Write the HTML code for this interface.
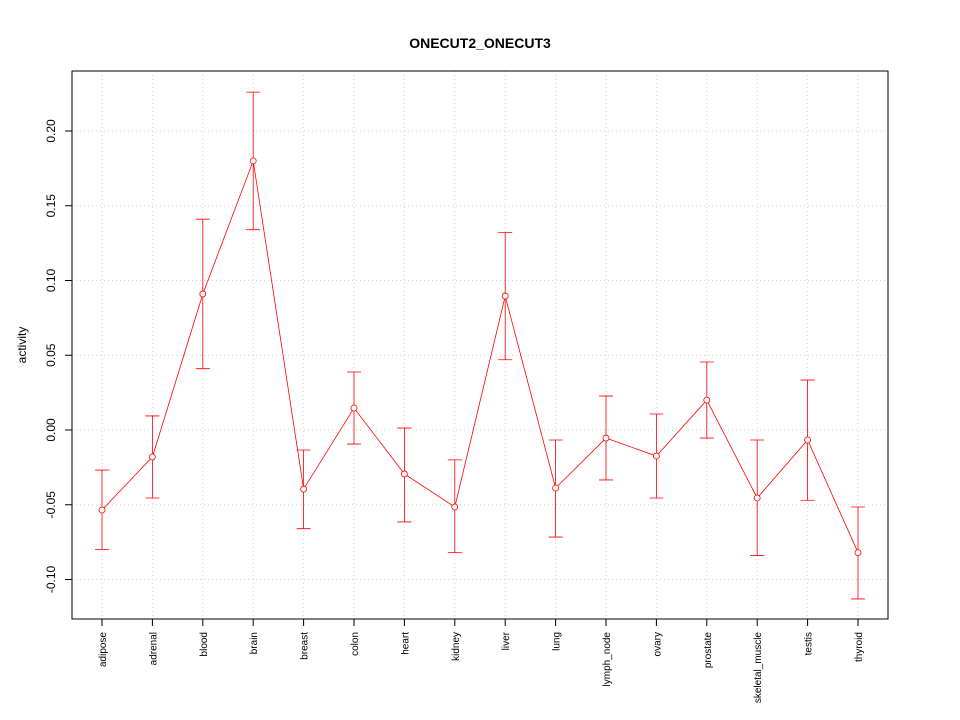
<!DOCTYPE html>
<html><head><meta charset="utf-8"><style>body{margin:0;background:#fff}svg{display:block;font-family:"Liberation Sans",sans-serif}</style></head>
<body>
<svg id="chart" width="960" height="720">
<text x="480" y="48" text-anchor="middle" font-size="14" font-weight="bold">ONECUT2_ONECUT3</text>
<text transform="translate(26,345) rotate(-90)" text-anchor="middle" font-size="12">activity</text>
<g id="grid"></g><g id="axes"></g><g id="marks"></g>
<rect x="72" y="71" width="816" height="548" fill="none" stroke="#000"/>
</svg>
<script>
const categories=["adipose","adrenal","blood","brain","breast","colon","heart","kidney","liver","lung","lymph_node","ovary","prostate","skeletal_muscle","testis","thyroid"];
const values=[-0.0535,-0.018,0.091,0.180,-0.0395,0.0147,-0.0294,-0.0515,0.0896,-0.0388,-0.0054,-0.0174,0.020,-0.0455,-0.0067,-0.082];
const upper=[-0.0268,0.0094,0.141,0.226,-0.0134,0.0388,0.0013,-0.020,0.132,-0.0067,0.0227,0.0107,0.0455,-0.0067,0.0334,-0.0515];
const lower=[-0.080,-0.0455,0.041,0.134,-0.066,-0.0094,-0.0615,-0.082,0.047,-0.0716,-0.0334,-0.0455,-0.0054,-0.084,-0.047,-0.113];
const yTicks=[-0.10,-0.05,0.00,0.05,0.10,0.15,0.20];
const yTickLabels=["-0.10","-0.05","0.00","0.05","0.10","0.15","0.20"];
const NS="http://www.w3.org/2000/svg";
const x=i=>102+i*(858-102)/(categories.length-1);
const y=v=>430-v*1495;
function mk(p,t,a){const e=document.createElementNS(NS,t);for(const k in a)e.setAttribute(k,a[k]);p.appendChild(e);return e;}
const grid=document.getElementById('grid'),axes=document.getElementById('axes'),marks=document.getElementById('marks');
categories.forEach((c,i)=>{
 const g=mk(grid,'line',{x1:x(i),x2:x(i),y1:71,y2:619,stroke:'#d3d3d3','stroke-dasharray':'1,3'});
 
 
 const t=mk(axes,'line',{x1:x(i),x2:x(i),y1:619,y2:626,stroke:'#000'});
 
 
 const l=mk(axes,'text',{transform:`translate(${x(i)+4},632) rotate(-90)`,'text-anchor':'end','font-size':'10'});
 l.textContent=c;
 
 
});
yTicks.forEach((v,i)=>{
 const g=mk(grid,'line',{x1:72,x2:888,y1:y(v),y2:y(v),stroke:'#d3d3d3','stroke-dasharray':'1,3'});
 
 
 const t=mk(axes,'line',{x1:65,x2:72,y1:y(v),y2:y(v),stroke:'#000'});
 
 
 const l=mk(axes,'text',{transform:`translate(55,${y(v)}) rotate(-90)`,'text-anchor':'middle','font-size':'12'});
 l.textContent=yTickLabels[i];
 
 
});
const line=mk(marks,'polyline',{points:values.map((v,i)=>x(i)+','+y(v)).join(' '),fill:'none',stroke:'red','stroke-width':'0.8'});


values.forEach((v,i)=>{
 const e=mk(marks,'path',{d:`M${x(i)},${y(upper[i])}V${y(lower[i])}M${x(i)-7},${y(upper[i])}H${x(i)+7}M${x(i)-7},${y(lower[i])}H${x(i)+7}`,stroke:'red',fill:'none','stroke-width':'0.8'});
 
 
 const p=mk(marks,'circle',{cx:x(i),cy:y(v),r:3,fill:'#fff',stroke:'red','stroke-width':'0.8'});
 
 
});
</script>
</body></html>
